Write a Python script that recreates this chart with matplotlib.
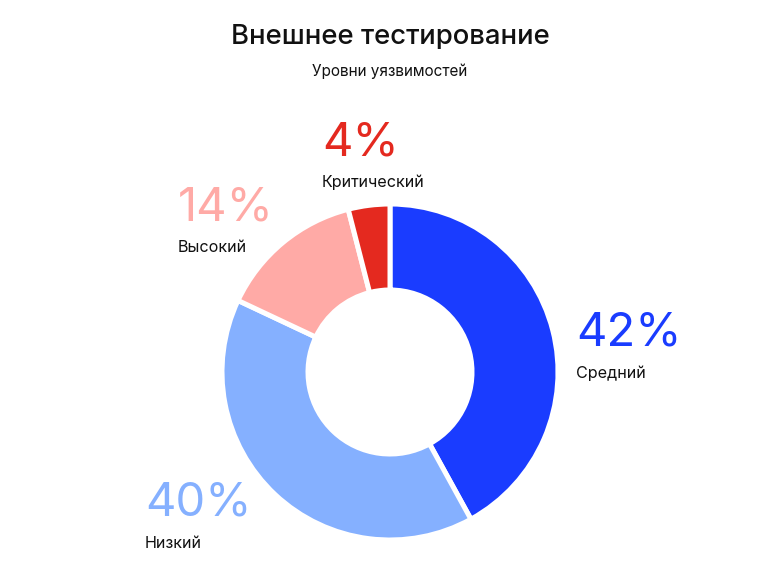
import matplotlib
matplotlib.use("Agg")
import matplotlib.pyplot as plt

# Data
categories = ["Средний", "Низкий", "Высокий", "Критический"]
shares = [42, 40, 14, 4]
colors = ["#1a3cff", "#85b0ff", "#ffaaa6", "#e4291f"]

W, H = 780, 578
FONT = ["Inter", "DejaVu Sans"]

fig = plt.figure(figsize=(W / 100, H / 100), dpi=100)
ax = fig.add_axes([0, 0, 1, 1])

# donut, drawn clockwise from the top (y axis is inverted, so counterclock=True)
cx, cy, r_out, r_in = 390, 372, 168, 82
ax.pie(shares, colors=colors, startangle=-90, counterclock=True,
       center=(cx, cy), radius=r_out, frame=True,
       wedgeprops=dict(width=r_out - r_in, edgecolor="white", linewidth=3.6))
ax.set_xlim(0, W)
ax.set_ylim(H, 0)
ax.set_aspect("equal")
ax.axis("off")

fig.text(0.5, 1 - 44 / H, "Внешнее тестирование", ha="center", va="baseline",
         fontsize=19.8, family=FONT, fontweight="medium", color="#111111")
fig.text(0.5, 1 - 76 / H, "Уровни уязвимостей", ha="center", va="baseline",
         fontsize=11, family=FONT, color="#111111")

# label positions (x, baseline of percent, baseline of name), in pixels
label_pos = {
    "Средний": (576, 346, 378),
    "Низкий": (145, 515, 548),
    "Высокий": (178, 220, 252),
    "Критический": (322, 155, 187),
}
for name, val, col in zip(categories, shares, colors):
    x, yp, yn = label_pos[name]
    fig.text(x / W, 1 - yp / H, f"{val}%", ha="left", va="baseline",
             fontsize=34, family=FONT, fontweight="normal", color=col)
    fig.text(x / W, 1 - yn / H, name, ha="left", va="baseline",
             fontsize=11.6, family=FONT, color="#111111")

fig.savefig("out.png", dpi=100, facecolor="white")
